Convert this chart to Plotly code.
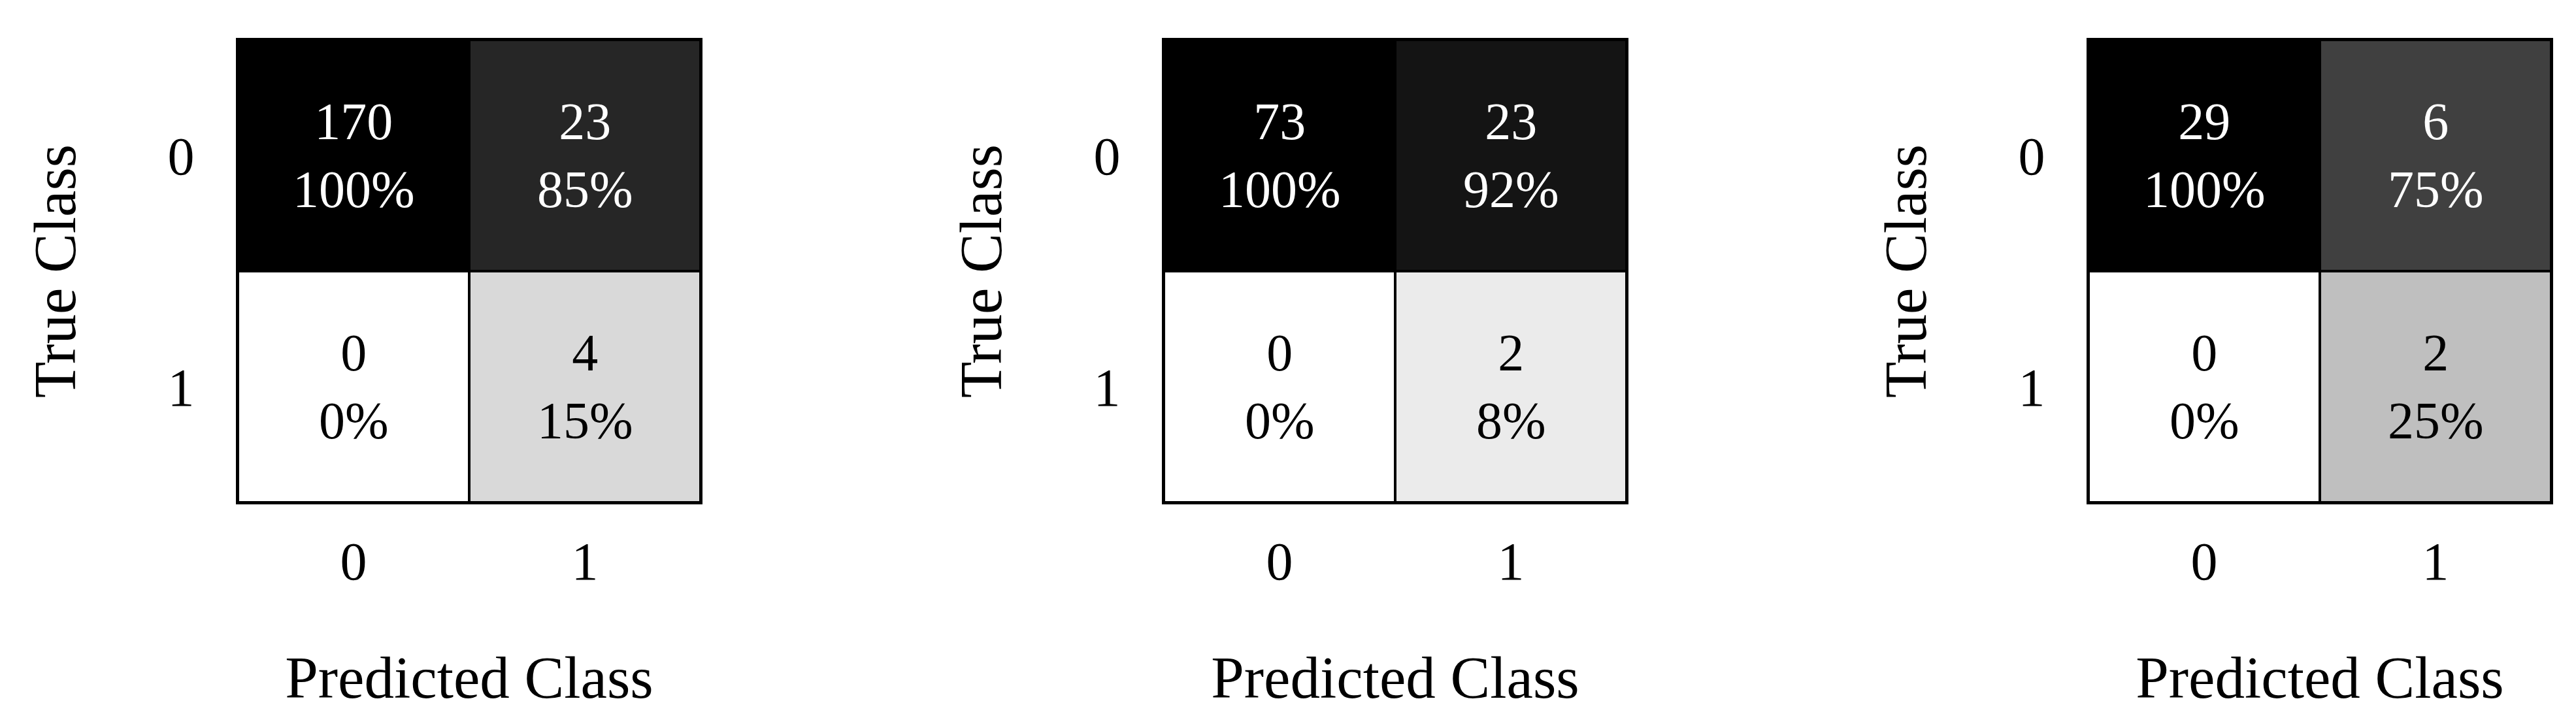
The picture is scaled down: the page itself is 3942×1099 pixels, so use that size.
import plotly.graph_objects as go

# confusion matrices, rows = true class, cols = predicted class
classes = ["0", "1"]

counts_a = [[170, 23], [0, 4]]
pct_a = [[100, 85], [0, 15]]

counts_b = [[73, 23], [0, 2]]
pct_b = [[100, 92], [0, 8]]

counts_c = [[29, 6], [0, 2]]
pct_c = [[100, 75], [0, 25]]

panels = [(counts_a, pct_a), (counts_b, pct_b), (counts_c, pct_c)]

W, H = 3942, 1099
FONT = "Palatino Linotype, Book Antiqua, Palatino, Liberation Serif, serif"

# page body margin shifts the figure by 8px, so boxes are given in figure px
OFF = 8
boxes_x = [(364 - OFF, 1072 - OFF), (1781 - OFF, 2489 - OFF), (3196 - OFF, 3904 - OFF)]
box_top, box_bottom = 61 - OFF, 769 - OFF

fig = go.Figure()

for i, (counts, pct) in enumerate(panels):
    n = "" if i == 0 else str(i + 1)
    fig.add_trace(go.Heatmap(
        z=pct,
        x=classes,
        y=classes,
        colorscale=[[0, "#ffffff"], [1, "#000000"]],
        zmin=0,
        zmax=100,
        showscale=False,
        xgap=4,
        ygap=4,
        hoverinfo="skip",
        xaxis="x" + n,
        yaxis="y" + n,
    ))

    # cell labels: count and column share
    for r in range(2):
        for c in range(2):
            fig.add_annotation(
                x=classes[c], y=classes[r],
                xref="x" + n, yref="y" + n,
                text=f"{counts[r][c]}<br>{pct[r][c]}%",
                showarrow=False,
                font=dict(family=FONT, size=80,
                          color="white" if pct[r][c] >= 50 else "black"),
            )

    x0, x1 = boxes_x[i]
    axis_common = dict(
        showline=True, mirror=True, linewidth=3, linecolor="black",
        showgrid=False, zeroline=False, ticks="",
        tickfont=dict(family=FONT, size=82, color="black"),
        title_font=dict(family=FONT, size=91, color="black"),
    )
    fig.update_layout({
        "xaxis" + n: dict(
            domain=[x0 / W, x1 / W], anchor="y" + n,
            type="category", ticklabelstandoff=17,
            title=dict(text="Predicted Class", standoff=100),
            **axis_common,
        ),
        "yaxis" + n: dict(
            domain=[1 - box_bottom / H, 1 - box_top / H], anchor="x" + n,
            type="category", autorange="reversed", ticklabelstandoff=47,
            title=dict(text="True Class", standoff=111),
            **axis_common,
        ),
    })

fig.update_layout(
    width=W,
    height=H,
    margin=dict(l=0, r=0, t=0, b=0),
    paper_bgcolor="white",
    plot_bgcolor="black",
    font=dict(family=FONT, color="black"),
    showlegend=False,
)

fig.write_html("out.html")
